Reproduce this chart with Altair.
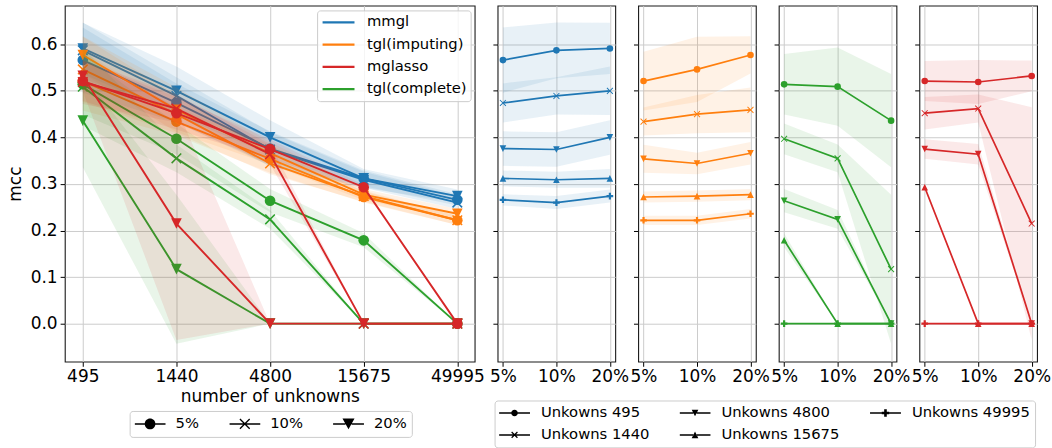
import altair as alt
import pandas as pd

# ---------------- data ----------------
methods = ["mmgl", "tgl(imputing)", "mglasso", "tgl(complete)"]
colors = ["#1f77b4", "#ff7f0e", "#d62728", "#2ca02c"]
draw_order = ["mmgl", "tgl(imputing)", "tgl(complete)", "mglasso"]
unknowns = ["495", "1440", "4800", "15675", "49995"]
pcts = ["5%", "10%", "20%"]
yticks = [0.0, 0.1, 0.2, 0.3, 0.4, 0.5, 0.6]

# mean mcc, rows = unknowns, cols = pcts
mcc_mmgl = [[0.566, 0.587, 0.591], [0.474, 0.489, 0.500], [0.376, 0.374, 0.400],
            [0.312, 0.309, 0.312], [0.266, 0.260, 0.274]]
mcc_tgl_imp = [[0.521, 0.546, 0.577], [0.434, 0.450, 0.459], [0.354, 0.344, 0.366],
               [0.272, 0.274, 0.277], [0.222, 0.222, 0.236]]
mcc_mglasso = [[0.521, 0.519, 0.532], [0.452, 0.462, 0.215], [0.375, 0.364, 0.0],
               [0.293, 0.0, 0.0], [0.0, 0.0, 0.0]]
mcc_tgl_comp = [[0.514, 0.509, 0.436], [0.397, 0.355, 0.117], [0.264, 0.224, 0.0],
                [0.179, 0.0, 0.0], [0.0, 0.0, 0.0]]

# half-width of the shaded band
sd_mmgl = [[0.070, 0.060, 0.055], [0.042, 0.040, 0.052], [0.037, 0.037, 0.037],
           [0.017, 0.017, 0.020], [0.012, 0.014, 0.014]]
sd_tgl_imp = [[0.063, 0.070, 0.040], [0.030, 0.041, 0.048], [0.030, 0.023, 0.024],
              [0.012, 0.012, 0.012], [0.010, 0.010, 0.010]]
sd_mglasso = [[0.043, 0.047, 0.033], [0.035, 0.030, 0.250], [0.021, 0.022, 0.0],
              [0.005, 0.0, 0.0], [0.0, 0.0, 0.0]]
sd_tgl_comp = [[0.065, 0.084, 0.100], [0.033, 0.030, 0.160], [0.025, 0.020, 0.0],
               [0.015, 0.0, 0.0], [0.0, 0.0, 0.0]]

mcc_by_method = {"mmgl": mcc_mmgl, "tgl(imputing)": mcc_tgl_imp,
                 "mglasso": mcc_mglasso, "tgl(complete)": mcc_tgl_comp}
sd_by_method = {"mmgl": sd_mmgl, "tgl(imputing)": sd_tgl_imp,
                "mglasso": sd_mglasso, "tgl(complete)": sd_tgl_comp}
color_of = dict(zip(methods, colors))

rows = []
for m in methods:
    for ni, n in enumerate(unknowns):
        for pi, p in enumerate(pcts):
            v = mcc_by_method[m][ni][pi]
            s = sd_by_method[m][ni][pi]
            rows.append({"method": m, "N": n, "ni": ni, "pct": p, "pi": pi,
                         "mcc": v, "lo": v - s, "hi": v + s})
df = pd.DataFrame(rows)

# ---------------- marker shapes ----------------
X_PATH = "M-1,-0.8L0.8,1L1,0.8L-0.8,-1Z M-1,0.8L-0.8,1L1,-0.8L0.8,-1Z"
TD = "M-1,-1L1,-1L0,1Z"
TU = "M-1,1L1,1L0,-1Z"
PLUS = "M-0.33,-1H0.33V-0.33H1V0.33H0.33V1H-0.33V0.33H-1V-0.33H-0.33Z"
left_shapes = ["circle", X_PATH, TD]
right_shapes = ["circle", X_PATH, TD, TU, PLUS]


def seg(g):
    return f"M-1,-0.05H-{g}V0.05H-1Z M{g},-0.05H1V0.05H{g}Z "


def circ(r):
    return f"M{r},0A{r},{r},0,1,1,-{r},0A{r},{r},0,1,1,{r},0Z"


def xmark(r, t):
    a = round(r - t, 3)
    return (f"M-{r},-{a}L{a},{r}L{r},{a}L-{a},-{r}Z "
            f"M-{r},{a}L-{a},{r}L{r},-{a}L{a},-{r}Z "
            "M-1,-0.05V0.05H1V-0.05Z")


leg1_paths = [
    seg(0.34) + circ(0.345),
    xmark(0.345, 0.06),
    seg(0.2) + "M-0.39,-0.345L0.39,-0.345L0,0.345Z",
]
r2 = 0.215
leg2_paths = [
    seg(0.21) + circ(r2),
    xmark(r2, 0.055),
    seg(0.11) + f"M-{r2},-{r2}L{r2},-{r2}L0,{r2}Z",
    seg(0.11) + f"M-{r2},{r2}L{r2},{r2}L0,-{r2}Z",
    seg(0.24) + "M-0.085,-0.24H0.085V-0.085H0.24V0.085H0.085V0.24H-0.085V0.085H-0.24V-0.085H-0.085Z",
]

# ---------------- scales / axes ----------------
Y_DOM = [-0.0815, 0.683]
LW, LH = 411, 357
RW = 118
FONT = "DejaVu Sans"

n_label_expr = "[" + ",".join(f"'{u}'" for u in unknowns) + "][datum.value]"
p_label_expr = "[" + ",".join(f"'{p}'" for p in pcts) + "][datum.value]"

xL = alt.X("ni:Q", scale=alt.Scale(domain=[-0.192, 4.185], nice=False, zero=False),
           axis=alt.Axis(title="number of unknowns", values=list(range(len(unknowns))),
                         labelExpr=n_label_expr, labelAngle=0, grid=True,
                         domain=False, tickSize=4.7, labelPadding=2, titlePadding=4,
                         labelFlush=False, labelOverlap=False))
yL_axis = alt.Axis(title="mcc", values=yticks, format=".1f", grid=True, domain=False,
                   tickSize=4.7, labelPadding=3, titlePadding=6)
yscale = alt.Scale(domain=Y_DOM, nice=False, zero=False)

legend_box = dict(fillColor="rgba(255,255,255,0.8)", strokeColor="#cccccc",
                  cornerRadius=3, labelFont=FONT, labelFontSize=14.8,
                  labelColor="black", title=None, clipHeight=16)

# ---------------- left panel ----------------
left_layers = []
for m in draw_order:
    d = df[df.method == m]
    col = color_of[m]
    band = alt.Chart(d).mark_area(opacity=0.1, color=col).encode(
        x=xL, y=alt.Y("lo:Q", scale=yscale, axis=yL_axis), y2=alt.Y2("hi"),
        detail="pct:N")
    line = alt.Chart(d).mark_line(strokeWidth=1.9).encode(
        x=xL, y=alt.Y("mcc:Q", scale=yscale, axis=yL_axis),
        stroke=alt.Stroke("method:N", scale=alt.Scale(domain=methods, range=colors),
                          legend=alt.Legend(orient="none", legendX=253, legendY=4.8,
                                            symbolType="stroke", symbolSize=1024,
                                            symbolStrokeWidth=2.2, padding=4,
                                            rowPadding=6.3, labelOffset=11,
                                            **legend_box)),
        detail="pct:N")
    pts = alt.Chart(d).mark_point(filled=True, opacity=1, size=114, color=col).encode(
        x=xL, y=alt.Y("mcc:Q", scale=yscale, axis=yL_axis),
        shape=alt.Shape("pct:N", scale=alt.Scale(domain=pcts, range=left_shapes), legend=None))
    left_layers += [band, line, pts]

leg1 = alt.Chart(df).mark_point(filled=True, opacity=1, size=961, color="black").encode(
    x=xL, y=alt.Y("mcc:Q", scale=yscale, axis=yL_axis),
    shape=alt.Shape("pct:N", scale=alt.Scale(domain=pcts, range=leg1_paths),
                    legend=alt.Legend(orient="none", legendX=65, legendY=406.5,
                                      direction="horizontal", symbolSize=961,
                                      symbolStrokeWidth=0, symbolFillColor="black",
                                      padding=5, labelOffset=10, columnPadding=30,
                                      **legend_box))
).transform_filter("false")
left_layers.append(leg1)

left = alt.layer(*left_layers).resolve_scale(shape="independent").properties(
    width=LW, height=LH)

# ---------------- right panels ----------------
xR = alt.X("pi:Q", scale=alt.Scale(domain=[-0.1, 2.1], nice=False, zero=False),
           axis=alt.Axis(title=None, values=list(range(len(pcts))), labelExpr=p_label_expr,
                         labelAngle=0, grid=True, domain=False, tickSize=4.7,
                         labelPadding=2, labelFlush=False, labelOverlap=False))
yR_axis = alt.Axis(title=None, labels=False, values=yticks, grid=True, domain=False,
                   tickSize=4.7)

right_panels = []
for k, m in enumerate(draw_order):
    d = df[df.method == m]
    col = color_of[m]
    band = alt.Chart(d).mark_area(opacity=0.1, color=col).encode(
        x=xR, y=alt.Y("lo:Q", scale=yscale, axis=yR_axis), y2=alt.Y2("hi"),
        detail="N:N")
    line = alt.Chart(d).mark_line(strokeWidth=1.7, color=col).encode(
        x=xR, y=alt.Y("mcc:Q", scale=yscale, axis=yR_axis),
        detail="N:N")
    pts = alt.Chart(d).mark_point(filled=True, opacity=1, size=44, color=col).encode(
        x=xR, y=alt.Y("mcc:Q", scale=yscale, axis=yR_axis),
        shape=alt.Shape("N:N", scale=alt.Scale(domain=unknowns, range=right_shapes),
                        legend=None))
    layers = [band, line, pts]
    if k == 0:
        label_expr = "'Unkowns ' + datum.label"
        leg2 = alt.Chart(d).mark_point(filled=True, opacity=1, size=961, color="black").encode(
            x=xR, y=alt.Y("mcc:Q", scale=yscale, axis=yR_axis),
            shape=alt.Shape("N:N", scale=alt.Scale(domain=unknowns, range=leg2_paths),
                            legend=alt.Legend(orient="none", legendX=-3, legendY=396,
                                              columns=3, direction="vertical",
                                              symbolSize=961,
                                              symbolStrokeWidth=0, symbolFillColor="black",
                                              padding=4.5, rowPadding=6, labelOffset=11,
                                              columnPadding=30, labelExpr=label_expr,
                                              **legend_box))
        ).transform_filter("false")
        layers.append(leg2)
    panel = alt.layer(*layers).resolve_scale(shape="independent").properties(
        width=RW, height=LH)
    right_panels.append(panel)

chart = alt.hconcat(left, *right_panels, spacing=23, bounds="flush").resolve_scale(
    shape="independent", stroke="independent", x="independent", y="independent"
).properties(
    padding={"left": 5, "top": 4, "right": 0, "bottom": 0}
).configure_view(
    stroke="#1a1a1a", strokeWidth=1.1
).configure_axis(
    labelFont=FONT, titleFont=FONT, labelFontSize=17, titleFontSize=17,
    titleFontWeight="normal", labelColor="black", titleColor="black",
    tickColor="black", tickWidth=1, gridColor="#cccccc", gridWidth=1
)

chart.save("out.html", embed_options={"renderer": "svg", "actions": False})
